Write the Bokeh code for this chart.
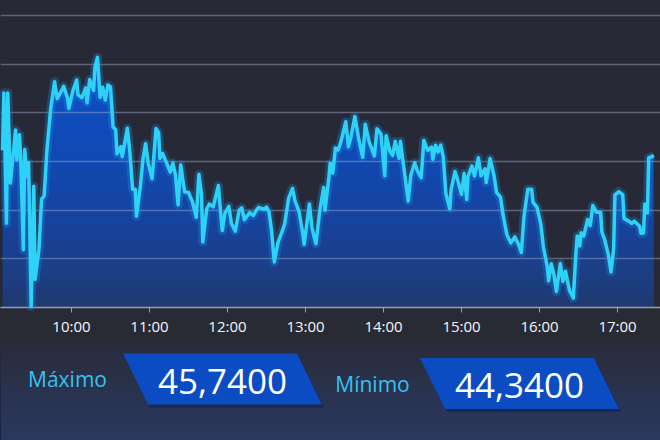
import numpy as np
from bokeh.plotting import figure
from bokeh.layouts import column
from bokeh.models import Range1d, FixedTicker, Grid
from bokeh.core.properties import value
from bokeh.embed import file_html
from bokeh.resources import INLINE

# ---------------- data ----------------
times = [
    "09:07", "09:08", "09:10", "09:11", "09:13", "09:17", "09:18", "09:20", "09:21", "09:23",
    "09:24", "09:26", "09:27", "09:29", "09:31", "09:32", "09:35", "09:37", "09:39", "09:41",
    "09:44", "09:47", "09:49", "09:52", "09:54", "09:57", "09:58", "10:01", "10:04", "10:05",
    "10:08", "10:11", "10:12", "10:14", "10:17", "10:18", "10:20", "10:22", "10:24", "10:26",
    "10:28", "10:30", "10:32", "10:34", "10:35", "10:38", "10:39", "10:43", "10:45", "10:47",
    "10:49", "10:50", "10:53", "10:55", "10:57", "10:59", "11:02", "11:04", "11:05", "11:07",
    "11:08", "11:10", "11:13", "11:16", "11:18", "11:20", "11:22", "11:24", "11:27", "11:30",
    "11:33", "11:36", "11:38", "11:40", "11:41", "11:44", "11:46", "11:49", "11:53", "11:55",
    "11:56", "11:58", "12:01", "12:03", "12:06", "12:09", "12:11", "12:13", "12:17", "12:20",
    "12:22", "12:24", "12:28", "12:30", "12:32", "12:34", "12:36", "12:39", "12:42", "12:44",
    "12:47", "12:50", "12:52", "12:55", "12:58", "12:59", "13:03", "13:05", "13:08", "13:11",
    "13:14", "13:15", "13:18", "13:19", "13:21", "13:23", "13:25", "13:27", "13:31", "13:33",
    "13:35", "13:38", "13:41", "13:44", "13:46", "13:49", "13:51", "13:53", "13:55", "13:58",
    "14:01", "14:02", "14:05", "14:07", "14:09", "14:12", "14:13", "14:16", "14:19", "14:21",
    "14:24", "14:26", "14:29", "14:31", "14:34", "14:37", "14:38", "14:40", "14:42", "14:44",
    "14:46", "14:48", "14:51", "14:52", "14:55", "14:57", "15:00", "15:02", "15:04", "15:05",
    "15:08", "15:10", "15:13", "15:15", "15:18", "15:19", "15:22", "15:25", "15:27", "15:30",
    "15:32", "15:35", "15:38", "15:41", "15:44", "15:46", "15:48", "15:49", "15:51", "15:54",
    "15:55", "15:58", "16:01", "16:03", "16:06", "16:07", "16:09", "16:11", "16:13", "16:16",
    "16:18", "16:20", "16:23", "16:26", "16:28", "16:29", "16:31", "16:32", "16:34", "16:37",
    "16:39", "16:41", "16:44", "16:47", "16:48", "16:50", "16:53", "16:55", "16:57", "16:58",
    "17:01", "17:04", "17:05", "17:09", "17:11", "17:13", "17:17", "17:18", "17:20", "17:21",
    "17:23", "17:24", "17:28",
]
prices = [
    45.218, 45.539, 44.808, 45.539, 45.034, 45.332, 45.164, 45.305, 45.165, 44.659,
    45.222, 45.070, 45.149, 44.340, 45.015, 44.492, 44.662, 44.943, 44.961, 45.209,
    45.451, 45.603, 45.508, 45.548, 45.577, 45.510, 45.454, 45.550, 45.613, 45.529,
    45.513, 45.569, 45.485, 45.615, 45.554, 45.684, 45.740, 45.516, 45.572, 45.500,
    45.585, 45.574, 45.349, 45.333, 45.198, 45.238, 45.182, 45.341, 45.200, 44.999,
    44.999, 44.847, 45.017, 45.169, 45.254, 45.147, 45.058, 45.244, 45.340, 45.318,
    45.172, 45.201, 45.150, 45.095, 45.146, 45.079, 44.911, 45.136, 44.985, 44.980,
    44.930, 44.841, 45.083, 44.971, 44.702, 44.888, 44.916, 44.900, 45.019, 44.845,
    44.767, 44.863, 44.903, 44.808, 44.763, 44.882, 44.894, 44.827, 44.867, 44.851,
    44.879, 44.897, 44.886, 44.898, 44.870, 44.758, 44.590, 44.703, 44.760, 44.805,
    44.947, 45.003, 44.931, 44.875, 44.746, 44.690, 44.916, 44.782, 44.692, 44.879,
    45.008, 44.880, 45.066, 45.145, 45.089, 45.230, 45.219, 45.259, 45.378, 45.238,
    45.294, 45.407, 45.279, 45.178, 45.364, 45.264, 45.225, 45.186, 45.338, 45.310,
    45.075, 45.300, 45.211, 45.189, 45.268, 45.173, 45.269, 45.101, 44.933, 45.079,
    45.148, 45.103, 45.064, 45.273, 45.217, 45.235, 45.167, 45.246, 45.208, 45.247,
    45.180, 44.973, 44.889, 44.996, 45.098, 45.053, 44.970, 45.088, 44.942, 45.072,
    45.129, 45.073, 45.175, 45.074, 45.114, 45.036, 45.171, 45.076, 44.981, 44.954,
    44.853, 44.741, 44.697, 44.731, 44.687, 44.643, 44.840, 44.896, 44.998, 44.998,
    44.926, 44.898, 44.803, 44.674, 44.562, 44.484, 44.580, 44.524, 44.424, 44.581,
    44.481, 44.538, 44.431, 44.387, 44.640, 44.736, 44.680, 44.754, 44.737, 44.828,
    44.794, 44.907, 44.869, 44.869, 44.757, 44.718, 44.629, 44.534, 44.663, 44.967,
    44.985, 44.968, 44.834, 44.818, 44.807, 44.819, 44.791, 44.752, 44.753, 44.916,
    44.866, 45.175, 45.187,
]
tick_labels = ["10:00", "11:00", "12:00", "13:00", "14:00", "15:00", "16:00", "17:00"]
stat_names = ["Máximo", "Mínimo"]


def to_hours(s):
    h, m = s.split(":")
    return int(h) + int(m) / 60.0


x = np.array([to_hours(t) for t in times])
y = np.array(prices)
tick_pos = [to_hours(t) for t in tick_labels]

# ---------------- chart ----------------
Y_LO = 44.334
GRID_STEP = 0.2736
grid_vals = [Y_LO + i * GRID_STEP for i in range(7)]
Y_HI = grid_vals[-1] + 0.084

BG = "#272936"
p = figure(width=660, height=343, x_range=Range1d(9.09, 17.551), y_range=Range1d(Y_LO, Y_HI),
           output_backend="svg", toolbar_location=None, y_axis_location=None,
           min_border_left=0, min_border_right=0, min_border_top=0, min_border_bottom=36,
           background_fill_color=BG, border_fill_color="#282a34", outline_line_color=None)
p.xgrid.visible = False
p.ygrid.visible = False

# gradient-like area fill: a base layer + stacked translucent layers
FILL = "#1558e0"
p.varea(x=x, y1=np.full_like(y, Y_LO), y2=y, fill_color=FILL, fill_alpha=0.3, level="underlay")
for L in np.linspace(Y_LO, 45.75, 25):
    p.varea(x=x, y1=np.minimum(L, y), y2=y, fill_color=FILL, fill_alpha=0.065, level="underlay")

g = Grid(dimension=1, ticker=FixedTicker(ticks=grid_vals), grid_line_color="#a3a8cc",
         grid_line_alpha=0.45, grid_line_width=1.5, level="glyph")
p.add_layout(g)

p.line(x, y, line_width=9, line_color="#1a8fe6", line_alpha=0.3, line_join="round", level="annotation")
p.line(x, y, line_width=3.5, line_color="#2fd2f7", line_join="round", level="annotation")

ax = p.xaxis[0]
ax.ticker = FixedTicker(ticks=tick_pos)
ax.major_label_overrides = {pos: lab for pos, lab in zip(tick_pos, tick_labels)}
ax.axis_line_color = "#9a9db5"
ax.axis_line_width = 1.5
ax.major_tick_line_color = "#9a9db5"
ax.major_tick_out = 5
ax.major_tick_in = 0
ax.minor_tick_line_color = None
ax.major_label_text_color = "#f4f6fa"
ax.major_label_text_font = "Open Sans"
ax.major_label_text_font_size = "15px"
ax.major_label_standoff = 3

# ---------------- stats panel ----------------
q = figure(width=660, height=97, x_range=Range1d(0, 660), y_range=Range1d(440, 343),
           output_backend="svg", toolbar_location=None, x_axis_location=None, y_axis_location=None,
           min_border=0, outline_line_color=None,
           background_fill_color="#292b38", border_fill_color="#292b38")
q.xgrid.visible = False
q.ygrid.visible = False
for top in np.linspace(343, 432, 13):
    q.quad(left=0, right=660, top=top, bottom=440, fill_color="#3a4cb0", fill_alpha=0.035, line_color=None)

BOX_CX = [222, 519]
BOX_CY = [378.5, 383]
BOX_W, BOX_H, SKEW = 174, 51, 25
LABEL_X = [67, 372]
vals = [max(prices), min(prices)]
val_txt = [f"{v:.4f}".replace(".", ",") for v in vals]

for cx, cy in zip(BOX_CX, BOX_CY):
    xs = [cx - BOX_W / 2 - SKEW / 2, cx + BOX_W / 2 - SKEW / 2, cx + BOX_W / 2 + SKEW / 2, cx - BOX_W / 2 + SKEW / 2]
    ys = [cy - BOX_H / 2, cy - BOX_H / 2, cy + BOX_H / 2, cy + BOX_H / 2]
    q.patch([v + 2 for v in xs], [v + 3 for v in ys], fill_color="#0a1a50", fill_alpha=0.5, line_color=None)
    q.patch(xs, ys, fill_color="#0b4cc2", line_color=None)

q.text(x=LABEL_X, y=BOX_CY, text=stat_names, text_font=value("Open Sans"), text_font_size="21px",
       text_color="#37c2f0", text_align="center", text_baseline="middle")
q.text(x=BOX_CX, y=[c + 2 for c in BOX_CY], text=val_txt, text_font=value("Open Sans"), text_font_size="35px",
       text_color="#ffffff", text_align="center", text_baseline="middle")

layout = column(p, q, spacing=0)

page_style = """{% block preamble %}<style>html, body { background: linear-gradient(#26282f 0%, #282a35 75%, #2c3560 100%); }</style>{% endblock %}"""
html = file_html(layout, INLINE, title="chart", template=page_style)
open("out.html", "w").write(html)
